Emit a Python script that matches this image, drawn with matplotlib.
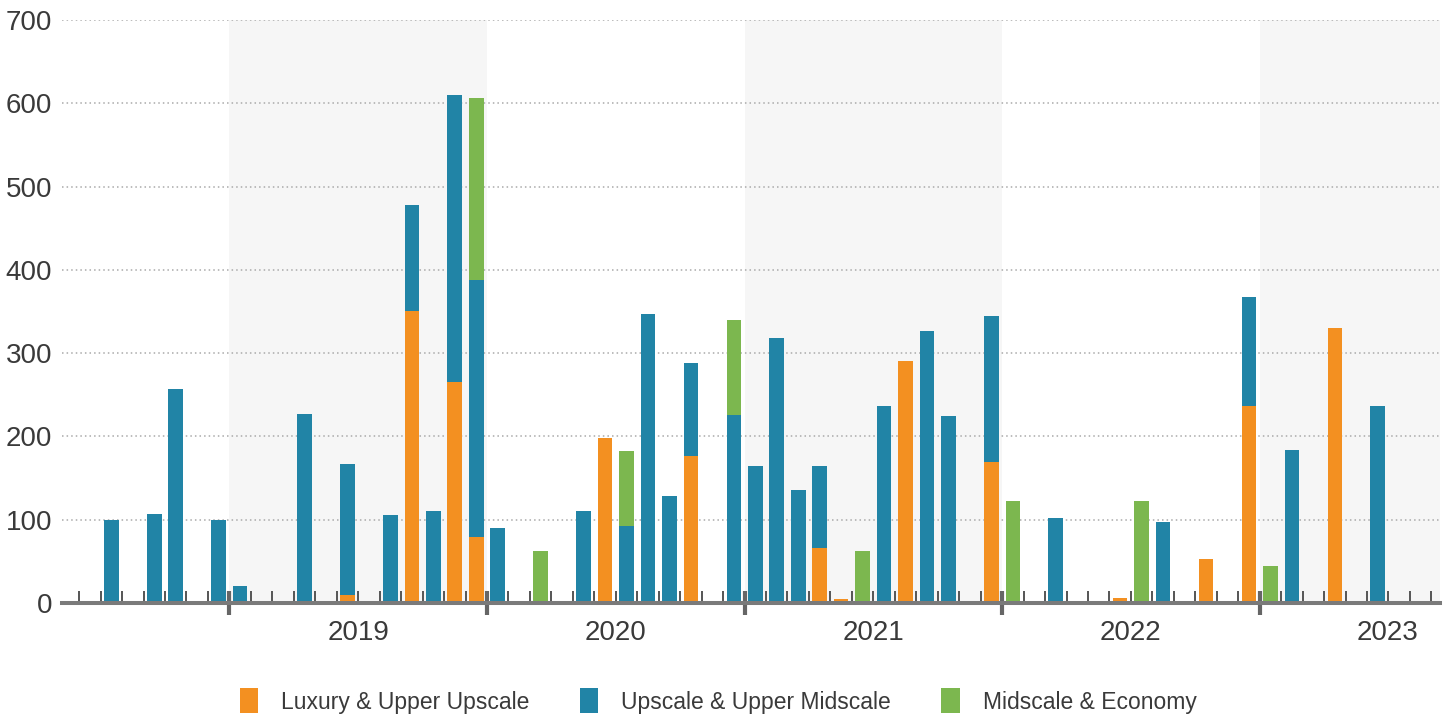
import matplotlib.pyplot as plt
from matplotlib.patches import Patch
from matplotlib.transforms import blended_transform_factory

plt.rcParams['font.family'] = ['Liberation Sans', 'DejaVu Sans']

# monthly hotel pipeline, rooms by segment (stacked)
months = ["2018-07", "2018-09", "2018-10", "2018-12", "2019-01", "2019-04", "2019-06",
          "2019-08", "2019-09", "2019-10", "2019-11", "2019-12", "2020-01", "2020-03",
          "2020-05", "2020-06", "2020-07", "2020-08", "2020-09", "2020-10", "2020-12",
          "2021-01", "2021-02", "2021-03", "2021-04", "2021-05", "2021-06", "2021-07",
          "2021-08", "2021-09", "2021-10", "2021-12", "2022-01", "2022-03", "2022-06",
          "2022-07", "2022-08", "2022-10", "2022-12", "2023-01", "2023-02", "2023-04",
          "2023-06"]

luxury = [0, 0, 0, 0, 0, 0, 10, 0, 351, 0, 265, 79, 0, 0,
          0, 198, 0, 0, 0, 177, 0,
          0, 0, 0, 66, 5, 0, 0,
          290, 0, 0, 169, 0, 0, 6,
          0, 0, 53, 237, 0, 0, 330,
          0]

upscale = [100, 107, 257, 100, 20, 227, 157, 106, 127, 111, 345, 309, 90, 0,
           110, 0, 92, 347, 129, 111, 226,
           165, 318, 136, 98, 0, 0, 237,
           0, 327, 224, 176, 0, 102, 0,
           0, 97, 0, 130, 0, 184, 0,
           237]

midscale = [0, 0, 0, 0, 0, 0, 0, 0, 0, 0, 0, 218, 0, 63,
            0, 0, 90, 0, 0, 0, 114,
            0, 0, 0, 0, 0, 63, 0,
            0, 0, 0, 0, 122, 0, 0,
            122, 0, 0, 0, 45, 0, 0,
            0]

years = ["2019", "2020", "2021", "2022", "2023"]
yticks = [0, 100, 200, 300, 400, 500, 600, 700]

labels = ["Luxury & Upper Upscale", "Upscale & Upper Midscale", "Midscale & Economy"]
colors = ["#F39021", "#2184A6", "#7CB74F"]

# month index counted from Jan 2018, bars sit in the middle of their month
x = [(int(m[:4]) - 2018) * 12 + int(m[5:]) - 1 + 0.5 for m in months]
bottom2 = [a + b for a, b in zip(luxury, upscale)]

fig = plt.figure(figsize=(14.45, 7.15), dpi=100)
ax = fig.add_axes([62 / 1445, 1 - 603 / 715, 1378 / 1445, 583 / 715])

xmin, xmax = 4.2, 68.4
ax.set_xlim(xmin, xmax)
ax.set_ylim(0, 700)

# shade every other year
for y0 in (12, 36, 60):
    ax.axvspan(y0, min(y0 + 12, xmax), color="#F6F6F6", zorder=0, lw=0)

w = 0.68
ax.bar(x, luxury, width=w, color=colors[0], zorder=2)
ax.bar(x, upscale, width=w, bottom=luxury, color=colors[1], zorder=2)
ax.bar(x, midscale, width=w, bottom=bottom2, color=colors[2], zorder=2)

ax.set_axisbelow(True)
ax.yaxis.grid(True, linestyle=(0, (1, 2)), color="#AAAAAA", linewidth=1.1)
ax.set_yticks(yticks)
ax.tick_params(axis="y", length=0, pad=7, labelsize=20, labelcolor="#3A3A3A")

for s in ("top", "right", "left"):
    ax.spines[s].set_visible(False)
ax.spines["bottom"].set_linewidth(2.9)
ax.spines["bottom"].set_color("#7A7A7A")
ax.spines["bottom"].set_zorder(3)

year_edges = [12, 24, 36, 48, 60]
ax.set_xticks(year_edges)
ax.set_xticklabels([""] * len(year_edges))
ax.set_xticks([m for m in range(5, 69) if m % 12 != 0], minor=True)
ax.tick_params(axis="x", which="major", direction="inout", length=17, width=3, color="#666666")
ax.tick_params(axis="x", which="minor", direction="in", length=9, width=1.4, color="#555555")

trans = blended_transform_factory(ax.transData, ax.transAxes)
year_pos = [18, 30, 42, 54, 65.95]
for xp, yr in zip(year_pos, years):
    ax.text(xp, -0.052, yr, transform=trans, ha="center", va="center",
            fontsize=20, color="#3A3A3A")

handles = [Patch(facecolor=c, edgecolor="none") for c in colors]
fig.legend(handles, labels, loc="center", bbox_to_anchor=(0.497, 14 / 715), ncol=3,
           frameon=False, fontsize=16.5, handlelength=0.8, handleheight=1.3,
           handletextpad=1.0, columnspacing=2.2, labelcolor="#3A3A3A")

fig.savefig("out.png", dpi=100)
